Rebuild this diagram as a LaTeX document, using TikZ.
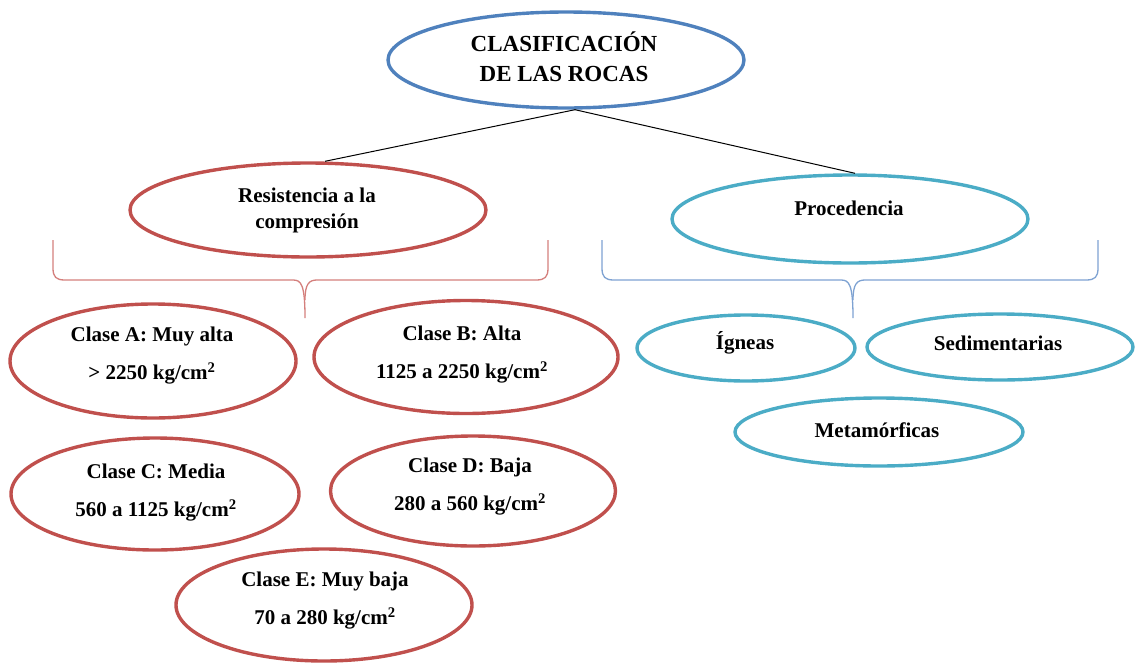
\documentclass[tikz,border=0pt]{standalone}
\usepackage{fontspec}
\setmainfont{Liberation Serif}
\usetikzlibrary{shapes.geometric}
\definecolor{oblue}{HTML}{4F81BD}
\definecolor{ored}{HTML}{C0504D}
\definecolor{oteal}{HTML}{4BACC6}
\definecolor{bracered}{HTML}{D47F7C}
\definecolor{braceblue}{HTML}{7EA2D2}
\tikzset{
  ell/.style={ellipse, draw, line width=3.4pt, inner sep=0pt},
  redell/.style={ell, draw=ored},
  tealell/.style={ell, draw=oteal},
  blueell/.style={ell, draw=oblue},
  lbl/.style={align=center, inner sep=0pt, font=\bfseries\fontsize{21}{38}\selectfont},
  conn/.style={draw=black, line width=1pt},
  bracel/.style={line width=1.3pt}
}
\begin{document}
\begin{tikzpicture}[x=1pt,y=-1pt]
\useasboundingbox (0,0) rectangle (1136,662);
% ellipses
\node[blueell, minimum width=356, minimum height=96] (top) at (566,60) {};
\node[redell, minimum width=356, minimum height=94] (res) at (308,210) {};
\node[tealell, minimum width=356, minimum height=88] (proc) at (850,219) {};
\node[redell, minimum width=286, minimum height=114] (A) at (153,361) {};
\node[redell, minimum width=304, minimum height=113] (B) at (466,357) {};
\node[redell, minimum width=288, minimum height=112] (C) at (155,494) {};
\node[redell, minimum width=285, minimum height=110] (D) at (473,491) {};
\node[redell, minimum width=296, minimum height=112] (E) at (324,605) {};
\node[tealell, minimum width=218, minimum height=66] (ign) at (746,348) {};
\node[tealell, minimum width=266, minimum height=66] (sed) at (1000,347) {};
\node[tealell, minimum width=288, minimum height=68] (met) at (879,432) {};
% labels
\node[lbl, font=\bfseries\fontsize{23}{30}\selectfont] (ttop) at (564,57) {CLASIFICACIÓN\\DE LAS ROCAS};
\node[lbl, font=\bfseries\fontsize{21}{26}\selectfont] (tres) at (307,210) {Resistencia a la\\compresión};
\node[lbl] (tproc) at (849,208) {Procedencia};
\node[lbl] (tA) at (152,356) {Clase A: Muy alta\\> 2250 kg/cm\textsuperscript{2}};
\node[lbl] (tB) at (462,355) {Clase B: Alta\\1125 a 2250 kg/cm\textsuperscript{2}};
\node[lbl] (tC) at (156,493) {Clase C: Media\\560 a 1125 kg/cm\textsuperscript{2}};
\node[lbl] (tD) at (470,487) {Clase D: Baja\\280 a 560 kg/cm\textsuperscript{2}};
\node[lbl] (tE) at (325,601) {Clase E: Muy baja\\70 a 280 kg/cm\textsuperscript{2}};
\node[lbl] (tign) at (745,343) {Ígneas};
\node[lbl] (tsed) at (998,343) {Sedimentarias};
\node[lbl] (tmet) at (877,430) {Metamórficas};
% connectors
\draw[conn] ([xshift=9]top.south) -- ([xshift=17]res.north);
\draw[conn] ([xshift=9]top.south) -- ([xshift=5]proc.north);
% braces
\draw[bracel, draw=bracered]
  (53,240) -- (53,268) .. controls (53,277) and (56,280) .. (65,280) -- (293,280)
  .. controls (301,280) and (305,284) .. (305,318);
\draw[bracel, draw=bracered]
  (548,240) -- (548,268) .. controls (548,277) and (545,280) .. (536,280) -- (317,280)
  .. controls (309,280) and (305,284) .. (305,300);
\draw[bracel, draw=braceblue]
  (602,240) -- (602,268) .. controls (602,277) and (605,280) .. (614,280) -- (841,280)
  .. controls (849,280) and (853,284) .. (853,318);
\draw[bracel, draw=braceblue]
  (1098,240) -- (1098,268) .. controls (1098,277) and (1095,280) .. (1086,280) -- (865,280)
  .. controls (857,280) and (853,284) .. (853,300);
\end{tikzpicture}
\end{document}
